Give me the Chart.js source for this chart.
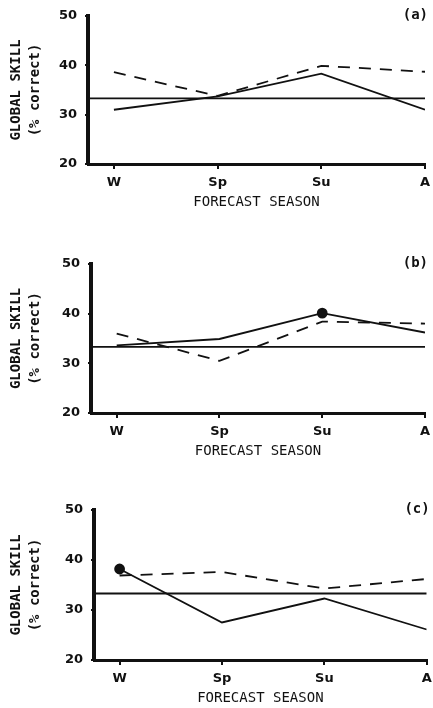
<!DOCTYPE html>
<html>
<head>
<meta charset="utf-8">
<script src="https://cdn.jsdelivr.net/npm/chart.js@4.4.1/dist/chart.umd.min.js"></script>
<style>
  html, body { margin: 0; padding: 0; background: #fff; overflow: hidden; }
  .panel { position: absolute; left: 0; width: 433px; }
</style>
</head>
<body>
<div class="panel" style="top:0px"><canvas id="chartA" width="433" height="212"></canvas></div>
<div class="panel" style="top:248px"><canvas id="chartB" width="433" height="213"></canvas></div>
<div class="panel" style="top:494px"><canvas id="chartC" width="433" height="214"></canvas></div>
<script>
// DATA
var seasons = ['W', 'Sp', 'Su', 'A'];
var yTicks  = [20, 30, 40, 50];
var chance  = 33.3;

var solidA  = [31.0, 33.7, 38.3, 31.0];
var dashedA = [38.6, 33.8, 39.9, 38.7];

var solidB  = [33.6, 34.9, 40.1, 36.2];
var dashedB = [36.0, 30.5, 38.4, 38.0];

var solidC  = [38.2, 27.5, 32.3, 26.1];
var dashedC = [36.9, 37.6, 34.3, 36.2];

var xMin = -0.25;
var ink  = '#111';

function pts(values) {
    return values.map(function (v, i) { return {x: i, y: v}; });
}

// panel letter in the top right corner
var panelTag = {
    id: 'panelTag',
    afterDraw: function (chart, args, opts) {
        var ctx  = chart.ctx;
        var area = chart.chartArea;
        ctx.save();
        ctx.fillStyle    = ink;
        ctx.font         = 'bold 14px "DejaVu Sans Mono"';
        ctx.textAlign    = 'right';
        ctx.textBaseline = 'middle';
        ctx.fillText(opts.text, area.right + 3, area.top - 1);
        ctx.restore();
    }
};

function makePanel(id, tag, solid, dashed, markIndex, leftWidth, rightPad) {
    var radii = solid.map(function (v, i) { return i === markIndex ? 4.5 : 0; });
    new Chart(document.getElementById(id), {
        type: 'line',
        plugins: [panelTag],
        data: {
            datasets: [
                {
                    data: [{x: xMin, y: chance}, {x: seasons.length - 1, y: chance}],
                    borderColor: ink,
                    borderWidth: 1.8,
                    pointRadius: 0
                },
                {
                    data: pts(dashed),
                    borderColor: ink,
                    borderWidth: 1.8,
                    borderDash: [12, 9],
                    pointRadius: 0
                },
                {
                    data: pts(solid),
                    borderColor: ink,
                    borderWidth: 1.8,
                    pointRadius: radii,
                    pointBackgroundColor: ink,
                    pointBorderColor: ink
                }
            ]
        },
        options: {
            responsive: false,
            animation: false,
            events: [],
            layout: { padding: { top: 16, right: rightPad, left: 0, bottom: 0 } },
            plugins: {
                legend: { display: false },
                tooltip: { enabled: false },
                panelTag: { text: tag }
            },
            scales: {
                x: {
                    type: 'linear',
                    min: xMin,
                    max: seasons.length - 1,
                    afterBuildTicks: function (scale) {
                        scale.ticks = seasons.map(function (s, i) { return {value: i}; });
                    },
                    afterFit: function (scale) {
                        scale.height = 48;
                        scale.paddingLeft = 0;
                        scale.paddingRight = 0;
                    },
                    ticks: {
                        color: ink,
                        padding: 6,
                        maxRotation: 0,
                        font: { family: 'DejaVu Sans', weight: 'bold', size: 13 },
                        callback: function (v) { return seasons[v]; }
                    },
                    grid: {
                        drawOnChartArea: false,
                        drawTicks: true,
                        tickLength: 5,
                        color: ink,
                        lineWidth: 2
                    },
                    border: { color: ink, width: 3 },
                    title: {
                        display: true,
                        text: 'FORECAST SEASON',
                        color: ink,
                        padding: { top: 0, bottom: 1 },
                        font: { family: 'DejaVu Sans Mono', size: 14, lineHeight: 1.2 }
                    }
                },
                y: {
                    min: 20,
                    max: 50,
                    afterBuildTicks: function (scale) {
                        scale.ticks = yTicks.map(function (v) { return {value: v}; });
                    },
                    afterFit: function (scale) { scale.width = leftWidth; },
                    ticks: {
                        color: ink,
                        padding: 8,
                        font: { family: 'DejaVu Sans', weight: 'bold', size: 13 }
                    },
                    grid: {
                        drawOnChartArea: false,
                        drawTicks: true,
                        tickLength: 3,
                        color: ink,
                        lineWidth: 2
                    },
                    border: { color: ink, width: 4 },
                    title: {
                        display: true,
                        text: ['GLOBAL SKILL', '(% correct)'],
                        color: ink,
                        padding: { top: 7, bottom: 0 },
                        font: { family: 'DejaVu Sans Mono', weight: 'bold', size: 14, lineHeight: 1.36 }
                    }
                }
            }
        }
    });
}

makePanel('chartA', '(a)', solidA, dashedA, -1, 88, 8);
makePanel('chartB', '(b)', solidB, dashedB, 2, 91, 8);
makePanel('chartC', '(c)', solidC, dashedC, 0, 94, 5);
</script>
</body>
</html>
